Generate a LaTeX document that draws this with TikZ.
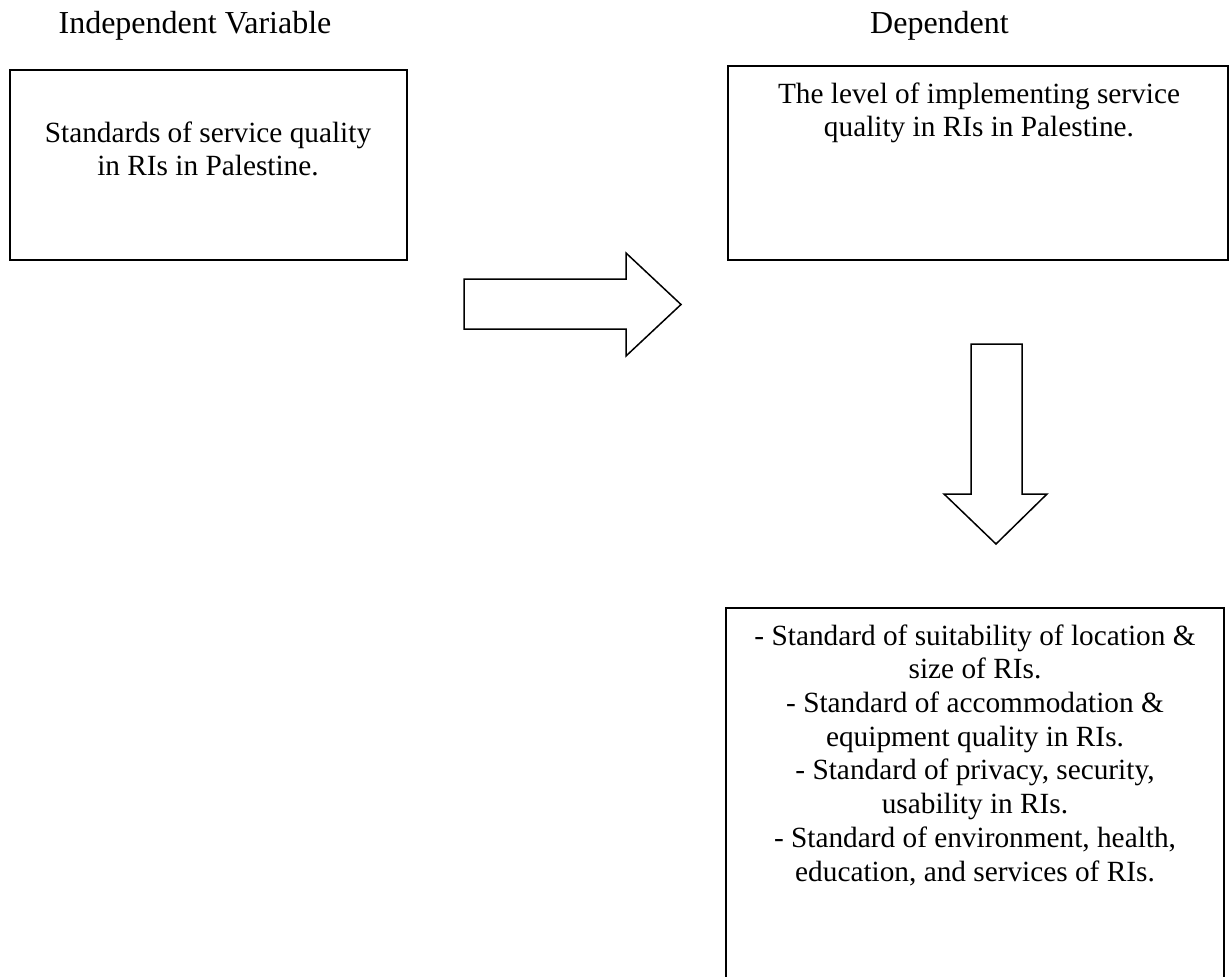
\documentclass[tikz,border=0pt]{standalone}
\usepackage{fontspec}
\setmainfont{Liberation Serif}
\begin{document}
\begin{tikzpicture}[x=1pt,y=-1pt,
  box/.style={draw=black,line width=1.5pt,fill=none},
  txt/.style={anchor=north,inner sep=0pt,align=center,font=\fontsize{29.3}{33.7}\selectfont},
  head/.style={anchor=north,inner sep=0pt,align=center,font=\fontsize{32}{36.8}\selectfont},
  blockarrow/.style={draw=black,line width=1.5pt,line join=miter,fill=white}]
\useasboundingbox (0,0) rectangle (1232,977);
\clip (0,0) rectangle (1232,977);
% headers
\node[head] (hind) at (195,7.2) {\strut Independent Variable};
\node[head] (hdep) at (939.5,7.2) {\strut Dependent};
% boxes
\draw[box] (10,70) rectangle (407,260);
\node[txt] (t1) at (208,118.4) {\strut Standards of service quality\\in RIs in Palestine.};
\draw[box] (728,66) rectangle (1228,260);
\node[txt] (t2) at (979,79.4) {\strut The level of implementing service\\quality in RIs in Palestine.};
\draw[box] (726,608) rectangle (1224,1000);
\node[txt] (t3) at (975,621.4) {\strut - Standard of suitability of location \&\\size of RIs.\\- Standard of accommodation \&\\equipment quality in RIs.\\- Standard of privacy, security,\\usability in RIs.\\- Standard of environment, health,\\education, and services of RIs.};
% block arrows
\draw[blockarrow] (464,279) -- (626,279) -- (626,253) -- (681,304.5) -- (626,356) -- (626,329) -- (464,329) -- cycle;
\draw[blockarrow] (971,344) -- (1022,344) -- (1022,494) -- (1047,494) -- (996,544) -- (944,494) -- (971,494) -- cycle;
\end{tikzpicture}
\end{document}
